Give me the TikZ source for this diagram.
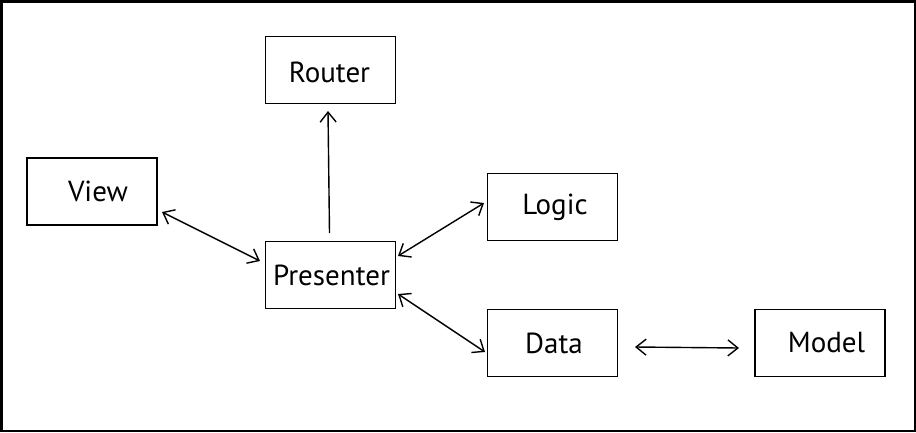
\documentclass[tikz,border=0pt]{standalone}
\usepackage{fontspec}
\setmainfont{PT Sans}
\usetikzlibrary{arrows.meta}
\tikzset{
  lbl/.style={font=\fontsize{29}{32}\selectfont},
  box/.style={draw, line width=1.6pt, minimum width=130pt, minimum height=67pt, inner sep=0pt, lbl},
  link/.style={line width=1.4pt, {Straight Barb[length=10pt,width=16pt]}-{Straight Barb[length=10pt,width=16pt]}},
  onelink/.style={line width=1.4pt, -{Straight Barb[length=10pt,width=16pt]}}
}
\begin{document}
\begin{tikzpicture}[x=1pt,y=-1pt]
\useasboundingbox (0,0) rectangle (916,432);
\draw[line width=2.5pt] (1.25,1.25) rectangle (914.75,430.75);
\node[box, label={[lbl,xshift=-1pt,yshift=-2pt]center:Router}] (router) at (330.5,70) {};
\node[box, label={[lbl,xshift=6pt]center:View}] (view) at (92,191.5) {};
\node[box, label={[lbl,xshift=1pt]center:Presenter}] (pres) at (330.5,275) {};
\node[box, label={[lbl,xshift=2.5pt]center:Logic}] (logic) at (552.5,207) {};
\node[box, label={[lbl,xshift=1.5pt]center:Data}] (data) at (552.5,343) {};
\node[box, label={[lbl,xshift=6.5pt]center:Model}] (model) at (820,343) {};
\coordinate (pr1) at (329.5,233);
\coordinate (pr2) at (328,111);
\coordinate (vp1) at (162,212);
\coordinate (vp2) at (260,261);
\coordinate (pl1) at (398,256);
\coordinate (pl2) at (484,203);
\coordinate (pd1) at (398,294);
\coordinate (pd2) at (485,352);
\coordinate (dm1) at (635,347);
\coordinate (dm2) at (739,348);
\draw[onelink] (pr1) -- (pr2);
\draw[link] (vp1) -- (vp2);
\draw[link] (pl1) -- (pl2);
\draw[link] (pd1) -- (pd2);
\draw[link] (dm1) -- (dm2);
\end{tikzpicture}
\end{document}
